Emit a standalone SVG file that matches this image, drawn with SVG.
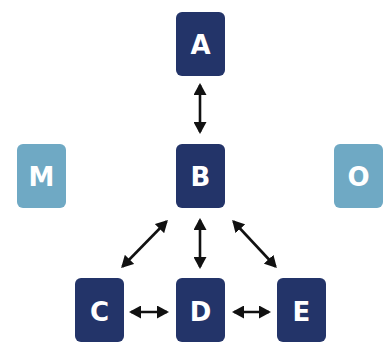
<svg xmlns="http://www.w3.org/2000/svg" width="386" height="342" viewBox="0 0 386 342">
<style>
.dark{fill:#233469}
.light{fill:#6fa9c4}
.lbl{font-family:"DejaVu Sans","Open Sans",sans-serif;font-weight:700;font-size:26px;fill:#fff;text-anchor:middle}
.conn{stroke:#111;stroke-width:2.6;fill:none;marker-start:url(#ah);marker-end:url(#ah)}
</style>
<defs>
<marker id="ah" markerUnits="userSpaceOnUse" markerWidth="13" markerHeight="13" viewBox="0 0 13 13" refX="10" refY="6.5" orient="auto-start-reverse">
<path d="M0,0 L12,6.5 L0,13 z" fill="#111"/>
</marker>
</defs>
<rect width="386" height="342" fill="#fff"/>
<g id="connectors">
<line class="conn" x1="200" y1="85" x2="200" y2="132"/>
<line class="conn" x1="166.5" y1="221.5" x2="122.5" y2="266.5"/>
<line class="conn" x1="200" y1="220" x2="200" y2="267"/>
<line class="conn" x1="233.5" y1="221.5" x2="275.5" y2="266.5"/>
<line class="conn" x1="131" y1="312" x2="167" y2="312"/>
<line class="conn" x1="234" y1="312" x2="269" y2="312"/>
</g>
<g id="node-A"><rect class="dark" x="176" y="12" width="49" height="64" rx="6"/><text class="lbl" x="200.5" y="54">A</text></g>
<g id="node-B"><rect class="dark" x="176" y="144" width="49" height="64" rx="6"/><text class="lbl" x="200.5" y="186">B</text></g>
<g id="node-M"><rect class="light" x="17" y="144" width="49" height="64" rx="6"/><text class="lbl" x="41.5" y="186">M</text></g>
<g id="node-O"><rect class="light" x="334" y="144" width="49" height="64" rx="6"/><text class="lbl" x="358.5" y="186">O</text></g>
<g id="node-C"><rect class="dark" x="75" y="278" width="49" height="64" rx="6"/><text class="lbl" x="99.5" y="321">C</text></g>
<g id="node-D"><rect class="dark" x="176" y="278" width="49" height="64" rx="6"/><text class="lbl" x="200.5" y="321">D</text></g>
<g id="node-E"><rect class="dark" x="277" y="278" width="49" height="64" rx="6"/><text class="lbl" x="301.5" y="321">E</text></g>
</svg>
